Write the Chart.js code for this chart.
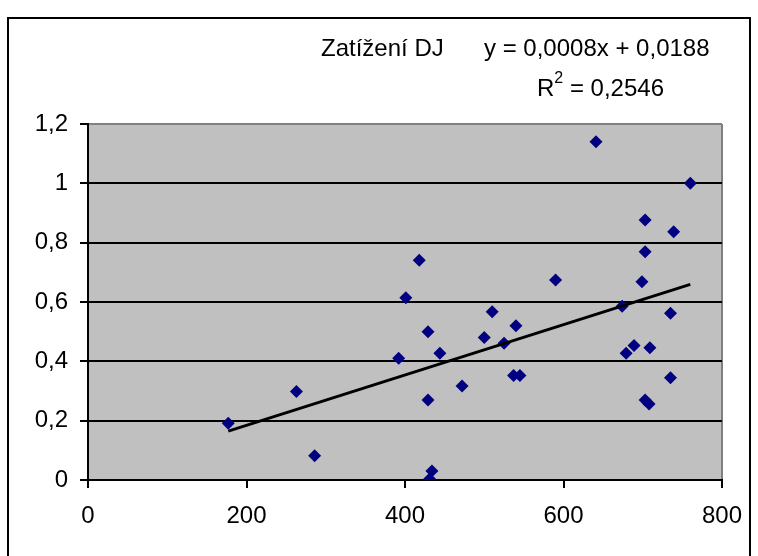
<!DOCTYPE html>
<html>
<head>
<meta charset="utf-8">
<script src="https://cdn.jsdelivr.net/npm/chart.js@4"></script>
<style>
  body { margin: 0; background: #fff; }
</style>
</head>
<body>
<canvas id="myChart" width="758" height="556"></canvas>
<script>
// zatížení vs. hodnota X, jeden bod na měření
const xValues = [177, 263, 286, 392, 401, 641, 760, 703, 739, 703, 418, 590, 699, 674, 735, 510, 540,
    429, 500, 525, 689, 709, 679, 444, 537, 545, 735, 472, 429, 703, 708, 434, 431];
const yValues = [0.191, 0.298, 0.082, 0.410, 0.614, 1.140, 1.000, 0.876, 0.837, 0.769, 0.741, 0.674, 0.668, 0.586, 0.562, 0.567, 0.520,
    0.500, 0.480, 0.461, 0.453, 0.446, 0.427, 0.427, 0.352, 0.352, 0.345, 0.317, 0.270, 0.270, 0.256, 0.030, 0.003];
const xTicks = [0, 200, 400, 600, 800];
const yTicks = [0, 0.2, 0.4, 0.6, 0.8, 1, 1.2];
const seriesName = "Zatížení DJ";
const equationText = "y = 0,0008x + 0,0188";
const r2Value = "0,2546";

// lineární trend metodou nejmenších čtverců
let n = xValues.length, sx = 0, sy = 0, sxx = 0, sxy = 0;
for (let i = 0; i < n; i++) {
    sx += xValues[i]; sy += yValues[i];
    sxx += xValues[i] * xValues[i]; sxy += xValues[i] * yValues[i];
}
let slope = (n * sxy - sx * sy) / (n * sxx - sx * sx);
let intercept = (sy - slope * sx) / n;
let xMin = Math.min(...xValues), xMax = Math.max(...xValues);

let points = xValues.map((x, i) => ({x: x, y: yValues[i]}));
let trend = [{x: xMin, y: slope * xMin + intercept}, {x: xMax, y: slope * xMax + intercept}];

const FONT = "'Liberation Sans', Arial, sans-serif";

const decor = {
    id: 'decor',
    beforeDraw(chart) {
        let c = chart.ctx, a = chart.chartArea;
        c.save();
        c.fillStyle = '#c0c0c0';
        c.fillRect(a.left, a.top, a.right - a.left, a.bottom - a.top);
        c.strokeStyle = '#000';
        c.lineWidth = 2;
        c.strokeRect(8, 18, 742, 560);
        c.restore();
    },
    afterDraw(chart) {
        let c = chart.ctx;
        c.save();
        c.fillStyle = '#000';
        c.font = '24px ' + FONT;
        c.textBaseline = 'alphabetic';
        c.fillText(seriesName, 321, 56);
        c.fillText(equationText, 484, 56);
        c.fillText('R', 537, 96);
        let w = c.measureText('R').width;
        c.font = '16px ' + FONT;
        c.fillText('2', 537 + w, 83);
        let w2 = c.measureText('2').width;
        c.font = '24px ' + FONT;
        c.fillText(' = ' + r2Value, 537 + w + w2, 96);
        c.restore();
    }
};

let myChart = new Chart(document.getElementById('myChart'), {
    type: 'scatter',
    data: {
        datasets: [
            {
                label: seriesName,
                data: points,
                pointStyle: 'rectRot',
                pointRadius: 6.5,
                pointHoverRadius: 6.5,
                backgroundColor: '#000080',
                borderColor: '#000080',
                borderWidth: 0,
                order: 2
            },
            {
                type: 'line',
                label: 'trend',
                data: trend,
                borderColor: '#000',
                borderWidth: 3,
                pointRadius: 0,
                fill: false,
                order: 1
            }
        ]
    },
    options: {
        responsive: false,
        animation: false,
        layout: {padding: {left: 8, right: 36, top: 124, bottom: 0}},
        plugins: {legend: {display: false}, tooltip: {enabled: false}},
        scales: {
            x: {
                type: 'linear',
                min: 0, max: 800,
                afterBuildTicks: s => { s.ticks = xTicks.map(v => ({value: v})); },
                afterFit: s => { s.height = 76; },
                ticks: {color: '#000', font: {family: FONT, size: 24}, padding: 14},
                grid: {
                    drawOnChartArea: true,
                    color: ctx => ctx.tick && ctx.tick.value === 800 ? '#808080' : 'rgba(0,0,0,0)',
                    lineWidth: 2,
                    tickColor: '#000',
                    tickLength: 8
                },
                border: {color: '#000', width: 2}
            },
            y: {
                type: 'linear',
                min: 0, max: 1.2,
                afterBuildTicks: s => { s.ticks = yTicks.map(v => ({value: v})); },
                afterFit: s => { s.width = 80; },
                ticks: {
                    color: '#000', font: {family: FONT, size: 24}, padding: 12,
                    callback: v => String(Number(v.toFixed(1))).replace('.', ',')
                },
                grid: {
                    color: ctx => ctx.tick && ctx.tick.value === 1.2 ? '#808080' : '#000',
                    lineWidth: 2,
                    tickColor: '#000',
                    tickLength: 8
                },
                border: {color: '#000', width: 2}
            }
        }
    },
    plugins: [decor]
});
</script>
</body>
</html>
